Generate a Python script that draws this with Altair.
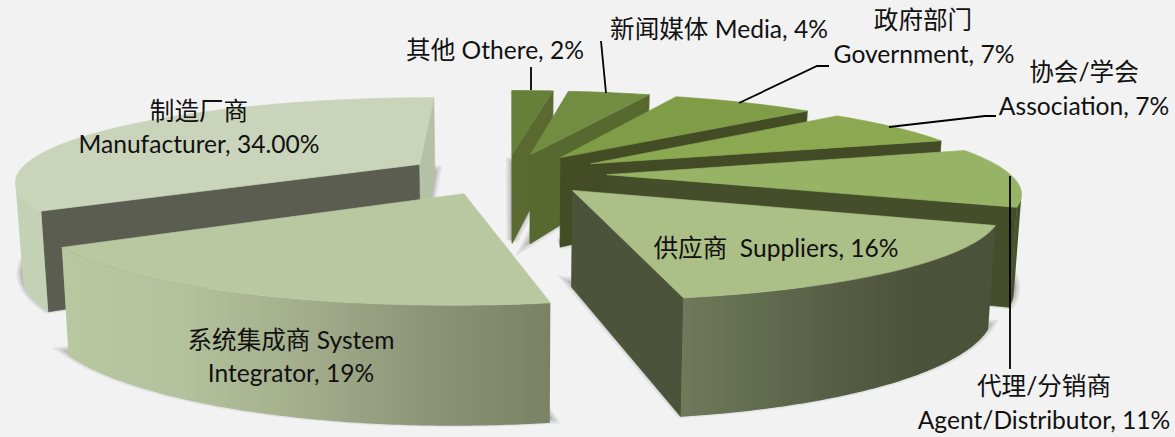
import math
import altair as alt

# ---- data (clockwise from the back of the pie)
names = ["Othere", "Media", "Government", "Association", "Agent/Distributor", "Suppliers", "System Integrator", "Manufacturer"]
shares = [2, 4, 7, 7, 11, 16, 19, 34]

top_colors = ["#667F39", "#728C42", "#7F9C47", "#8BA951", "#97B466", "#ABBF87", "#B9C8A1", "#C9D4BA"]
cut_start = ["#566A2F", "#566A2F", "#424B24", "#424B24", "#444E2A", "#4D533B", "#7C8468", "#5A5D50"]
cut_end = ["#59692F", "#58692F", "#434C25", "#424B26", "#444E2A", "#4D533B", "#B9C8A1", "#B5C1A5"]
# rim shading, left to right on the page
rim_stops = [
    ["#5E7533", "#5E7533"],
    ["#6A8239", "#6A8239"],
    ["#6A8239", "#6A8239"],
    ["#5E7533", "#5E7533"],
    ["#46522B", "#46522B"],
    ["#70795A", "#626C4F", "#565D43", "#4D533B", "#4C523A"],
    ["#B9C8A1", "#B3C19C", "#A3AD8B", "#8C9478", "#7A8266"],
    ["#C5D1B5", "#C5D1B5"],
]
label_rows = [
    ("其他 Othere, 2%", 495, 52), ("新闻媒体 Media, 4%", 719, 31),
    ("政府部门", 923, 22), ("Government, 7%", 924, 56),
    ("协会/学会", 1084, 74), ("Association, 7%", 1084, 108),
    ("供应商\u00a0\u00a0Suppliers, 16%", 776, 250),
    ("代理/分销商", 1044, 388), ("Agent/Distributor, 11%", 1044, 422),
    ("系统集成商 System", 291, 342), ("Integrator, 19%", 291, 375),
    ("制造厂商", 199, 113), ("Manufacturer, 34.00%", 199, 146),
]
leaders = [
    [(531, 67), (531, 90)],
    [(601, 41), (606, 93)],
    [(739, 103), (817, 66), (829, 66)],
    [(889, 127), (985, 116), (996, 116)],
    [(1010, 176), (1010, 369)],
]

# ---- view of the tilted pie
XV, YH, YC, D, RX, X0, H, K, EXPL = 511, -269, 174, 5.38, 403, -5, 93, 0.015, 0.25


def project(u, v, z=0.0):
    s = D / (D - v)
    x = XV + (u * RX + X0) * s
    y = YH + (YC - YH) * s
    x = XV + (x - XV) * (1 - K * z)
    y = y + H * s * z
    return [x, y]


def area(pts):
    return sum(pts[i][0] * pts[(i + 1) % len(pts)][1] - pts[(i + 1) % len(pts)][0] * pts[i][1] for i in range(len(pts)))


features = []


def add(poly, fill, stroke=None, sw=0.7, op=1.0):
    ring = [list(p) for p in poly] + [list(poly[0])]
    features.append({
        "type": "Feature",
        "geometry": {"type": "Polygon", "coordinates": [ring]},
        "properties": {"fill": fill, "stroke": stroke or (fill if isinstance(fill, str) else "none"), "sw": sw, "op": op},
    })


def gradient(stops):
    return {
        "gradient": "linear", "x1": 0, "y1": 0, "x2": 1, "y2": 0,
        "stops": [{"offset": k / (len(stops) - 1), "color": c} for k, c in enumerate(stops)],
    }


edges = [0]
for v in shares:
    edges.append(edges[-1] + v)

draw_order = [0, 1, 2, 3, 4, 5, 7, 6]
for i in draw_order:
    t1 = edges[i] / 100 * 2 * math.pi
    t2 = edges[i + 1] / 100 * 2 * math.pi
    mid = (t1 + t2) / 2
    au, av = EXPL * math.sin(mid), -EXPL * math.cos(mid)
    n = max(8, int(shares[i] * 6))
    plan = [(au + math.sin(t1 + (t2 - t1) * k / n), av - math.cos(t1 + (t2 - t1) * k / n)) for k in range(n + 1)]
    apex = (au, av)

    # soft shadow around the floor of the slice
    outline = [apex] + plan
    shape = [project(u, v, 0.96) for u, v in outline]
    for sw, op in ((12, 0.10), (8, 0.14), (4, 0.2)):
        add(shape, "#606060", "#606060", sw, op)

    # cut faces and rim, back faces dropped
    q = [project(*apex), project(*plan[0]), project(plan[0][0], plan[0][1], 1), project(apex[0], apex[1], 1)]
    if area(q) < 0:
        add(q, cut_start[i])
    q = [project(*plan[-1]), project(*apex), project(apex[0], apex[1], 1), project(plan[-1][0], plan[-1][1], 1)]
    if area(q) < 0:
        add(q, cut_end[i])
    seen = []
    for k in range(n):
        a, b = plan[k], plan[k + 1]
        q = [project(*a), project(*b), project(b[0], b[1], 1), project(a[0], a[1], 1)]
        if area(q) < 0:
            seen.extend([a, b])
    if seen:
        rim = [project(u, v) for u, v in seen] + [project(u, v, 1) for u, v in reversed(seen)]
        add(rim, gradient(rim_stops[i]), "none", 0)
    add([project(u, v) for u, v in outline], top_colors[i])

W, H_CHART = 1175, 437
shapes = alt.Chart(
    alt.InlineData(values={"type": "FeatureCollection", "features": features},
                   format=alt.DataFormat(type="json", property="features"))
).mark_geoshape().encode(
    fill=alt.Fill("properties.fill:N", scale=None, legend=None),
    stroke=alt.Stroke("properties.stroke:N", scale=None, legend=None),
    strokeWidth=alt.StrokeWidth("properties.sw:Q", scale=None, legend=None),
    opacity=alt.Opacity("properties.op:Q", scale=None, legend=None),
).project(type="identity", scale=1, translate=[0, 0])

leader_rows = [{"id": j, "o": k, "x": x, "y": y} for j, line in enumerate(leaders) for k, (x, y) in enumerate(line)]
lines = alt.Chart(alt.Data(values=leader_rows)).mark_line(color="#000000", strokeWidth=1.8).encode(
    x=alt.X("x:Q", scale=None, axis=None),
    y=alt.Y("y:Q", scale=None, axis=None),
    detail="id:N",
    order="o:Q",
)

text_rows = [{"t": t, "x": x, "y": y} for t, x, y in label_rows]
texts = alt.Chart(alt.Data(values=text_rows)).mark_text(
    font="Lato, Noto Sans CJK SC", fontSize=24.6, color="#111111", align="center", baseline="middle"
).encode(
    x=alt.X("x:Q", scale=None, axis=None),
    y=alt.Y("y:Q", scale=None, axis=None),
    text="t:N",
)

chart = alt.layer(shapes, lines, texts).properties(
    width=W, height=H_CHART, padding=0, background="#F2F2F2",
    autosize=alt.AutoSizeParams(type="none"),
).configure_view(stroke=None)

chart.save("out.html", embed_options={
    "renderer": "svg", "actions": False,
    "defaultStyle": "html,body{margin:0;padding:0;background:#F2F2F2;overflow:hidden}",
})
